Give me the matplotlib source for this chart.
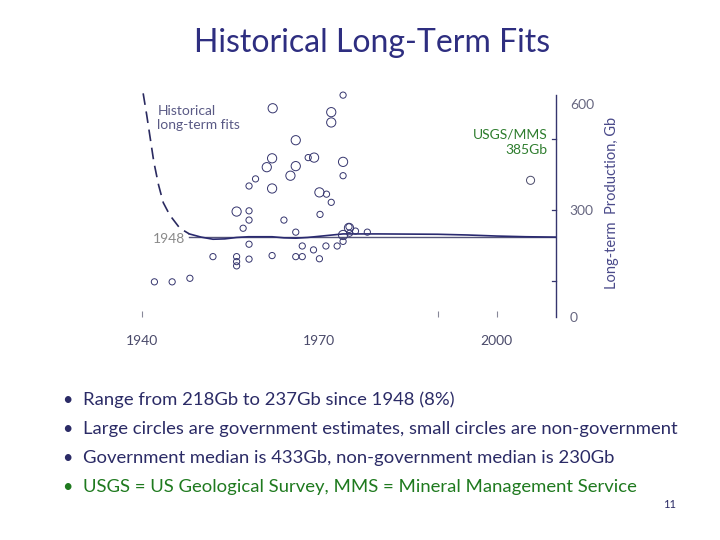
import matplotlib
matplotlib.use("Agg")
import matplotlib.pyplot as plt

plt.rcParams['font.family'] = ['Lato', 'DejaVu Sans']

# government estimates (large circles): year, Gb
gov_year = [1962.1, 1972.0, 1972.0, 1966.0, 1962.0, 1961.1, 1966.0, 1965.1,
            1962.0, 1969.1, 1974.0, 1970.0, 1956.0, 1974.0, 1975.0]
gov_gb = [588, 577, 548, 498, 447, 422, 425, 398,
          362, 449, 437, 351, 297, 231, 251]

# non-government estimates (small circles)
non_year = [1974.0, 1968.1, 1974.0, 1959.2, 1958.1, 1971.2, 1972.0, 1958.1,
            1958.1, 1964.0, 1970.1, 1957.1, 1966.0, 1958.1, 1952.0, 1956.0,
            1956.0, 1956.0, 1958.1, 1962.0, 1966.0, 1967.1, 1967.1, 1969.0,
            1970.0, 1971.1, 1973.0, 1974.0, 1942.1, 1945.1, 1948.1, 1975.0,
            1975.1, 1976.1, 1978.1]
non_gb = [625, 449, 398, 389, 369, 346, 323, 299,
          273, 273, 289, 250, 239, 205, 170, 170,
          156, 144, 163, 173, 170, 170, 200, 189,
          164, 200, 200, 213, 99, 99, 109, 254,
          236, 242, 239]

usgs_year = [2005.7]
usgs_gb = [385]

# historical fit curves
fit_year = [1948, 1950, 1952, 1954, 1956, 1958, 1962, 1964, 1966, 1968,
            1971, 1974, 1980, 1990, 1995, 2000, 2005, 2010]
fit_gb = [234, 225, 219, 220, 224, 226, 226, 223, 222, 224,
          229, 234, 234, 233, 231, 228, 226, 225]
early_year = [1940.2, 1940.8, 1941.4, 1942.0, 1942.8, 1943.6, 1944.7, 1946.4, 1948.0]
early_gb = [630, 569, 503, 437, 372, 322, 287, 250, 234]
base_year = [1948, 2010]
base_gb = [225, 225]

bullets = ["Range from 218Gb to 237Gb since 1948 (8%)",
           "Large circles are government estimates, small circles are non-government",
           "Government median is 433Gb, non-government median is 230Gb",
           "USGS = US Geological Survey, MMS = Mineral Management Service"]
bullet_colors = ['#2b2b66', '#2b2b66', '#2b2b66', '#1f7a1f']

navy = '#35356e'

fig = plt.figure(figsize=(7.2, 5.4), dpi=100)
ax = fig.add_axes([0.1972, 0.413, 0.575, 0.4207])

ax.plot(base_year, base_gb, color='#55557a', lw=1.0)
ax.plot(fit_year, fit_gb, color='#2a2a70', lw=1.2)
ax.plot(early_year, early_gb, color='#2a2a60', lw=1.2, ls=(0, (7, 4)))

ax.scatter(gov_year, gov_gb, s=44, facecolors='none', edgecolors=navy, linewidths=0.7, zorder=3)
ax.scatter(non_year, non_gb, s=20, facecolors='none', edgecolors=navy, linewidths=0.7, zorder=3)
ax.scatter(usgs_year, usgs_gb, s=34, facecolors='none', edgecolors='#4a4a6a', linewidths=0.7, zorder=3)

ax.set_xlim(1940, 2010)
ax.set_ylim(0, 640)

for s in ['top', 'left', 'bottom']:
    ax.spines[s].set_visible(False)
ax.spines['right'].set_color(navy)
ax.spines['right'].set_linewidth(1.0)
ax.spines['right'].set_bounds(0, 625)

# x axis: small marks at some years, labels at others
ax.xaxis.remove_overlapping_locs = False
ax.set_xticks([1940, 1970, 2000])
ax.set_xticklabels(['1940', '1970', '2000'])
ax.set_xticks([1940, 1990, 2000], minor=True)
ax.tick_params(axis='x', which='major', length=0, pad=13, labelsize=10, labelcolor='#4a4a6a')
ax.tick_params(axis='x', which='minor', direction='in', length=4, color='#888899', width=0.8)

# right y axis
ax.yaxis.tick_right()
ax.set_yticks([0, 300, 600])
ax.set_yticklabels(['0', '300', '600'])
ax.tick_params(axis='y', which='major', length=0, pad=10, labelsize=10, labelcolor='#666680')
for yv in [100, 300, 500]:
    ax.plot([2009.3, 2010], [yv, yv], color=navy, lw=0.9, clip_on=False)
ax.yaxis.set_label_position('right')
ax.set_ylabel('Long-term  Production, Gb', color='#4a4a8a', fontsize=10.5, labelpad=8)

ax.text(1942.6, 598, 'Historical\nlong-term fits', color='#5a5a85', fontsize=10,
        va='top', ha='left', linespacing=1.25)
ax.text(1947.3, 220, '1948', color='#8a8a8a', fontsize=10, ha='right', va='center')
ax.text(2008.6, 493, 'USGS/MMS\n385Gb', color='#2e7d2e', fontsize=10,
        ha='right', va='center', linespacing=1.35)

fig.text(0.517, 0.921, 'Historical Long-Term Fits', color='#2e2e80', fontsize=23,
         ha='center', va='center')

for i, (txt, col) in enumerate(zip(bullets, bullet_colors)):
    y = 1 - (400 + 29 * i) / 540
    fig.text(62 / 720, y, '\u2022', color=col, fontsize=13, ha='left', va='center')
    fig.text(83 / 720, y, txt, color=col, fontsize=13.3, ha='left', va='center')

fig.text(670 / 720, 1 - 504 / 540, '11', color='#2b2b66', fontsize=8, ha='center', va='center')

fig.savefig('out.png', dpi=100)
